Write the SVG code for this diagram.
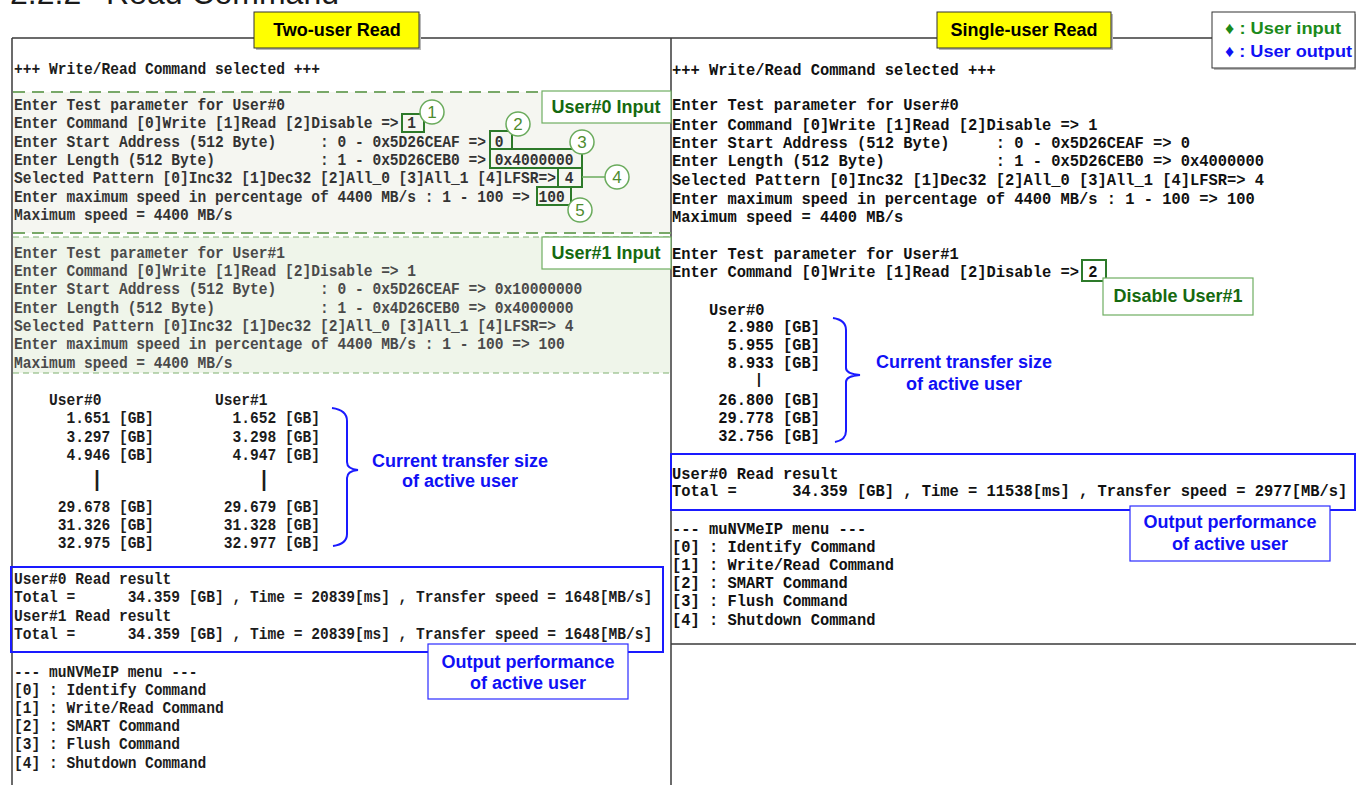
<svg xmlns="http://www.w3.org/2000/svg" width="1356" height="785" viewBox="0 0 1356 785">
<style>
.mono{font-family:"Liberation Mono","DejaVu Sans Mono",monospace;font-weight:bold;}
.ml{font-size:14.58px;fill:#1c1c1c;}
.ml0{font-size:14.58px;fill:#333;}
.ml1{font-size:14.58px;fill:#4a4a4a;}
.mr{font-size:15.43px;fill:#111;}
.lbl{font-family:"Liberation Sans",Arial,sans-serif;font-weight:bold;font-size:18px;text-anchor:middle;}
.g{fill:#15690f;}
.b{fill:#1010f5;}
.frame{stroke:#3a3a3a;stroke-width:1.5;fill:none;}
.gbox{fill:none;stroke:#2d7a2a;stroke-width:2;}
.circ{fill:#fff;stroke:#6aab5c;stroke-width:1.5;}
.cnum{font-family:"Liberation Sans",Arial,sans-serif;font-size:17px;fill:#4e8b2e;text-anchor:middle;}
.callg{fill:#fff;stroke:#6fae62;stroke-width:1.2;}
.callb{fill:#fff;stroke:#2b2bff;stroke-width:1.2;}
.outb{fill:none;stroke:#1a1aff;stroke-width:2;}
.brace{fill:none;stroke:#1a1aff;stroke-width:2;}
.shadow{fill:#b8b8b8;}
.dash0{stroke:#78a868;stroke-width:2;stroke-dasharray:12 7;}
.dash1{stroke:#7fb070;stroke-width:1;stroke-dasharray:6 4;}
</style>

<g id="heading">
<text x="10" y="4" font-family="Liberation Sans, Arial, sans-serif" font-size="32" fill="#1a1a1a">2.2.2</text>
<text x="106" y="4" font-family="Liberation Sans, Arial, sans-serif" font-size="32" fill="#1a1a1a">Read Command</text>
</g>

<g id="frames">
<line x1="12" y1="38" x2="1212" y2="38" class="frame"/>
<line x1="12" y1="38" x2="12" y2="785" class="frame"/>
<line x1="671" y1="38" x2="671" y2="785" class="frame"/>
<line x1="671" y1="644" x2="1356" y2="644" class="frame"/>
</g>

<g id="user0-input-region">
<rect x="13" y="92" width="657" height="141" fill="#f5f6f1"/>
<line x1="13" y1="92" x2="542" y2="92" class="dash0"/>
<line x1="13" y1="233" x2="671" y2="233" class="dash0"/>
</g>
<g id="user1-input-region">
<rect x="13" y="237" width="657" height="136" fill="#eff5ea"/>
<line x1="13" y1="237" x2="671" y2="237" class="dash1"/>
<line x1="13" y1="373" x2="671" y2="373" class="dash1"/>
</g>

<g id="two-user-panel" class="mono" transform="scale(1,1.1)">
<text x="14" y="67.3" class="ml">+++ Write/Read Command selected +++</text>
<text x="14" y="100" class="ml0">Enter Test parameter for User#0</text>
<text x="14" y="116.6" class="ml0">Enter Command [0]Write [1]Read [2]Disable => 1</text>
<text x="14" y="133.4" class="ml0">Enter Start Address (512 Byte)&#160;&#160;&#160;&#160;&#160;: 0 - 0x5D26CEAF => 0</text>
<text x="14" y="150" class="ml0">Enter Length (512 Byte)&#160;&#160;&#160;&#160;&#160;&#160;&#160;&#160;&#160;&#160;&#160;&#160;: 1 - 0x5D26CEB0 => 0x4000000</text>
<text x="14" y="166.6" class="ml0">Selected Pattern [0]Inc32 [1]Dec32 [2]All_0 [3]All_1 [4]LFSR=> 4</text>
<text x="14" y="183.4" class="ml0">Enter maximum speed in percentage of 4400 MB/s : 1 - 100 => 100</text>
<text x="14" y="200" class="ml0">Maximum speed = 4400 MB/s</text>
<text x="14" y="234.3" class="ml1">Enter Test parameter for User#1</text>
<text x="14" y="250.9" class="ml1">Enter Command [0]Write [1]Read [2]Disable => 1</text>
<text x="14" y="267.5" class="ml1">Enter Start Address (512 Byte)&#160;&#160;&#160;&#160;&#160;: 0 - 0x5D26CEAF => 0x10000000</text>
<text x="14" y="284.3" class="ml1">Enter Length (512 Byte)&#160;&#160;&#160;&#160;&#160;&#160;&#160;&#160;&#160;&#160;&#160;&#160;: 1 - 0x4D26CEB0 => 0x4000000</text>
<text x="14" y="300.9" class="ml1">Selected Pattern [0]Inc32 [1]Dec32 [2]All_0 [3]All_1 [4]LFSR=> 4</text>
<text x="14" y="317.5" class="ml1">Enter maximum speed in percentage of 4400 MB/s : 1 - 100 => 100</text>
<text x="14" y="334.3" class="ml1">Maximum speed = 4400 MB/s</text>
<text x="14" y="368.2" class="ml">&#160;&#160;&#160;&#160;User#0&#160;&#160;&#160;&#160;&#160;&#160;&#160;&#160;&#160;&#160;&#160;&#160;&#160;User#1</text>
<text x="14" y="384.8" class="ml">&#160;&#160;&#160;&#160;&#160;&#160;1.651 [GB]&#160;&#160;&#160;&#160;&#160;&#160;&#160;&#160;&#160;1.652 [GB]</text>
<text x="14" y="401.5" class="ml">&#160;&#160;&#160;&#160;&#160;&#160;3.297 [GB]&#160;&#160;&#160;&#160;&#160;&#160;&#160;&#160;&#160;3.298 [GB]</text>
<text x="14" y="418.2" class="ml">&#160;&#160;&#160;&#160;&#160;&#160;4.946 [GB]&#160;&#160;&#160;&#160;&#160;&#160;&#160;&#160;&#160;4.947 [GB]</text>
<text x="97" y="441.5" class="ml" text-anchor="middle" style="font-size:20px">|</text>
<text x="264" y="441.5" class="ml" text-anchor="middle" style="font-size:20px">|</text>
<text x="14" y="465.2" class="ml">&#160;&#160;&#160;&#160;&#160;29.678 [GB]&#160;&#160;&#160;&#160;&#160;&#160;&#160;&#160;29.679 [GB]</text>
<text x="14" y="481.8" class="ml">&#160;&#160;&#160;&#160;&#160;31.326 [GB]&#160;&#160;&#160;&#160;&#160;&#160;&#160;&#160;31.328 [GB]</text>
<text x="14" y="498.5" class="ml">&#160;&#160;&#160;&#160;&#160;32.975 [GB]&#160;&#160;&#160;&#160;&#160;&#160;&#160;&#160;32.977 [GB]</text>
<text x="14" y="530.9" class="ml">User#0 Read result</text>
<text x="14" y="547.5" class="ml">Total =&#160;&#160;&#160;&#160;&#160;&#160;34.359 [GB] , Time = 20839[ms] , Transfer speed = 1648[MB/s]</text>
<text x="14" y="564.5" class="ml">User#1 Read result</text>
<text x="14" y="581.2" class="ml">Total =&#160;&#160;&#160;&#160;&#160;&#160;34.359 [GB] , Time = 20839[ms] , Transfer speed = 1648[MB/s]</text>
<text x="14" y="615.2" class="ml">--- muNVMeIP menu ---</text>
<text x="14" y="631.8" class="ml">[0] : Identify Command</text>
<text x="14" y="648.5" class="ml">[1] : Write/Read Command</text>
<text x="14" y="664.5" class="ml">[2] : SMART Command</text>
<text x="14" y="681.2" class="ml">[3] : Flush Command</text>
<text x="14" y="697.9" class="ml">[4] : Shutdown Command</text>
</g>

<g id="single-user-panel" class="mono" transform="scale(1,1.1)">
<text x="672" y="68.2" class="mr">+++ Write/Read Command selected +++</text>
<text x="672" y="100.3" class="mr">Enter Test parameter for User#0</text>
<text x="672" y="117.8" class="mr">Enter Command [0]Write [1]Read [2]Disable => 1</text>
<text x="672" y="134.5" class="mr">Enter Start Address (512 Byte)&#160;&#160;&#160;&#160;&#160;: 0 - 0x5D26CEAF => 0</text>
<text x="672" y="151.2" class="mr">Enter Length (512 Byte)&#160;&#160;&#160;&#160;&#160;&#160;&#160;&#160;&#160;&#160;&#160;&#160;: 1 - 0x5D26CEB0 => 0x4000000</text>
<text x="672" y="167.8" class="mr">Selected Pattern [0]Inc32 [1]Dec32 [2]All_0 [3]All_1 [4]LFSR=> 4</text>
<text x="672" y="185.1" class="mr">Enter maximum speed in percentage of 4400 MB/s : 1 - 100 => 100</text>
<text x="672" y="201.8" class="mr">Maximum speed = 4400 MB/s</text>
<text x="672" y="235.1" class="mr">Enter Test parameter for User#1</text>
<text x="672" y="251.8" class="mr">Enter Command [0]Write [1]Read [2]Disable => 2</text>
<text x="672" y="286" class="mr">&#160;&#160;&#160;&#160;User#0</text>
<text x="672" y="301.8" class="mr">&#160;&#160;&#160;&#160;&#160;&#160;2.980 [GB]</text>
<text x="672" y="318.5" class="mr">&#160;&#160;&#160;&#160;&#160;&#160;5.955 [GB]</text>
<text x="672" y="334.5" class="mr">&#160;&#160;&#160;&#160;&#160;&#160;8.933 [GB]</text>
<text x="759" y="349.5" class="mr" text-anchor="middle" style="font-size:14px">|</text>
<text x="672" y="367.8" class="mr">&#160;&#160;&#160;&#160;&#160;26.800 [GB]</text>
<text x="672" y="384.5" class="mr">&#160;&#160;&#160;&#160;&#160;29.778 [GB]</text>
<text x="672" y="401.2" class="mr">&#160;&#160;&#160;&#160;&#160;32.756 [GB]</text>
<text x="672" y="435.1" class="mr">User#0 Read result</text>
<text x="672" y="450.9" class="mr">Total =&#160;&#160;&#160;&#160;&#160;&#160;34.359 [GB] , Time = 11538[ms] , Transfer speed = 2977[MB/s]</text>
<text x="672" y="485.1" class="mr">--- muNVMeIP menu ---</text>
<text x="672" y="501.8" class="mr">[0] : Identify Command</text>
<text x="672" y="518.5" class="mr">[1] : Write/Read Command</text>
<text x="672" y="534.5" class="mr">[2] : SMART Command</text>
<text x="672" y="551.2" class="mr">[3] : Flush Command</text>
<text x="672" y="568.5" class="mr">[4] : Shutdown Command</text>
</g>

<g id="input-value-boxes">
<rect x="402" y="114" width="22" height="18" class="gbox"/>
<rect x="490" y="131" width="22" height="18" class="gbox"/>
<rect x="490" y="149" width="92" height="19" class="gbox"/>
<rect x="558" y="168" width="24" height="19" class="gbox"/>
<rect x="537" y="187" width="34" height="18" class="gbox"/>
<rect x="1082" y="260" width="24" height="21" class="gbox"/>
</g>

<g id="connectors">
<line x1="582" y1="177" x2="605" y2="177" stroke="#6aab5c" stroke-width="1.5"/>
<path d="M332,408 Q347,410 347,421 L347,462 Q347,469 358,470 Q347,471 347,478 L347,534 Q347,544 333,546" class="brace"/>
<path d="M833,318 Q846,320 846,330 L846,368 Q846,374 860,375 Q846,376 846,382 L846,431 Q846,440 835,442" class="brace"/>
</g>

<g id="step-circles">
<circle cx="432" cy="112" r="12" class="circ"/><text x="432" y="118" class="cnum">1</text>
<circle cx="518" cy="124" r="12" class="circ"/><text x="518" y="130" class="cnum">2</text>
<circle cx="582" cy="142" r="12" class="circ"/><text x="582" y="148" class="cnum">3</text>
<circle cx="617" cy="177" r="12" class="circ"/><text x="617" y="183" class="cnum">4</text>
<circle cx="580" cy="210" r="12" class="circ"/><text x="580" y="216" class="cnum">5</text>
</g>

<g id="title-two-user">
<rect x="256" y="14" width="165" height="36" class="shadow"/>
<rect x="254" y="12" width="165" height="36" fill="#ffff00" stroke="#333" stroke-width="1"/>
<text x="337" y="36" class="lbl" fill="#000">Two-user Read</text>
</g>
<g id="title-single-user">
<rect x="939" y="14" width="174" height="36" class="shadow"/>
<rect x="937" y="12" width="174" height="36" fill="#ffff00" stroke="#333" stroke-width="1"/>
<text x="1024" y="36" class="lbl" fill="#000">Single-user Read</text>
</g>
<g id="legend">
<rect x="1214" y="14" width="142" height="56" class="shadow"/>
<rect x="1212" y="12" width="143" height="56" fill="#fff" stroke="#333" stroke-width="1"/>
<text x="1225" y="34" font-family="Liberation Sans, Arial, sans-serif" font-weight="bold" font-size="17" fill="#1b8a1b" textLength="116" lengthAdjust="spacingAndGlyphs">♦ : User input</text>
<text x="1225" y="57" font-family="Liberation Sans, Arial, sans-serif" font-weight="bold" font-size="17" fill="#1010f5" textLength="127" lengthAdjust="spacingAndGlyphs">♦ : User output</text>
</g>

<g id="user0-input-label">
<rect x="542" y="91" width="129" height="32" class="callg"/>
<text x="606" y="113" class="lbl g">User#0 Input</text>
</g>
<g id="user1-input-label">
<rect x="542" y="237" width="129" height="32" class="callg"/>
<text x="606" y="259" class="lbl g">User#1 Input</text>
</g>
<g id="disable-user1-label">
<rect x="1103" y="278" width="150" height="37" class="callg"/>
<text x="1178" y="302" class="lbl g">Disable User#1</text>
</g>

<g id="two-user-transfer-label">
<text x="460" y="466.5" class="lbl b">Current transfer size</text>
<text x="460" y="487" class="lbl b">of active user</text>
</g>
<g id="single-user-transfer-label">
<text x="964" y="368" class="lbl b">Current transfer size</text>
<text x="964" y="390" class="lbl b">of active user</text>
</g>

<g id="two-user-output">
<rect x="11" y="567" width="652" height="85" class="outb"/>
</g>
<g id="single-user-output">
<rect x="671" y="454" width="684" height="56" class="outb"/>
</g>

<g id="two-user-perf-label">
<rect x="428" y="644" width="200" height="55" class="callb"/>
<text x="528" y="667.5" class="lbl b">Output performance</text>
<text x="528" y="688.5" class="lbl b">of active user</text>
</g>
<g id="single-user-perf-label">
<rect x="1130" y="506" width="200" height="55" class="callb"/>
<text x="1230" y="528" class="lbl b">Output performance</text>
<text x="1230" y="550" class="lbl b">of active user</text>
</g>
</svg>
